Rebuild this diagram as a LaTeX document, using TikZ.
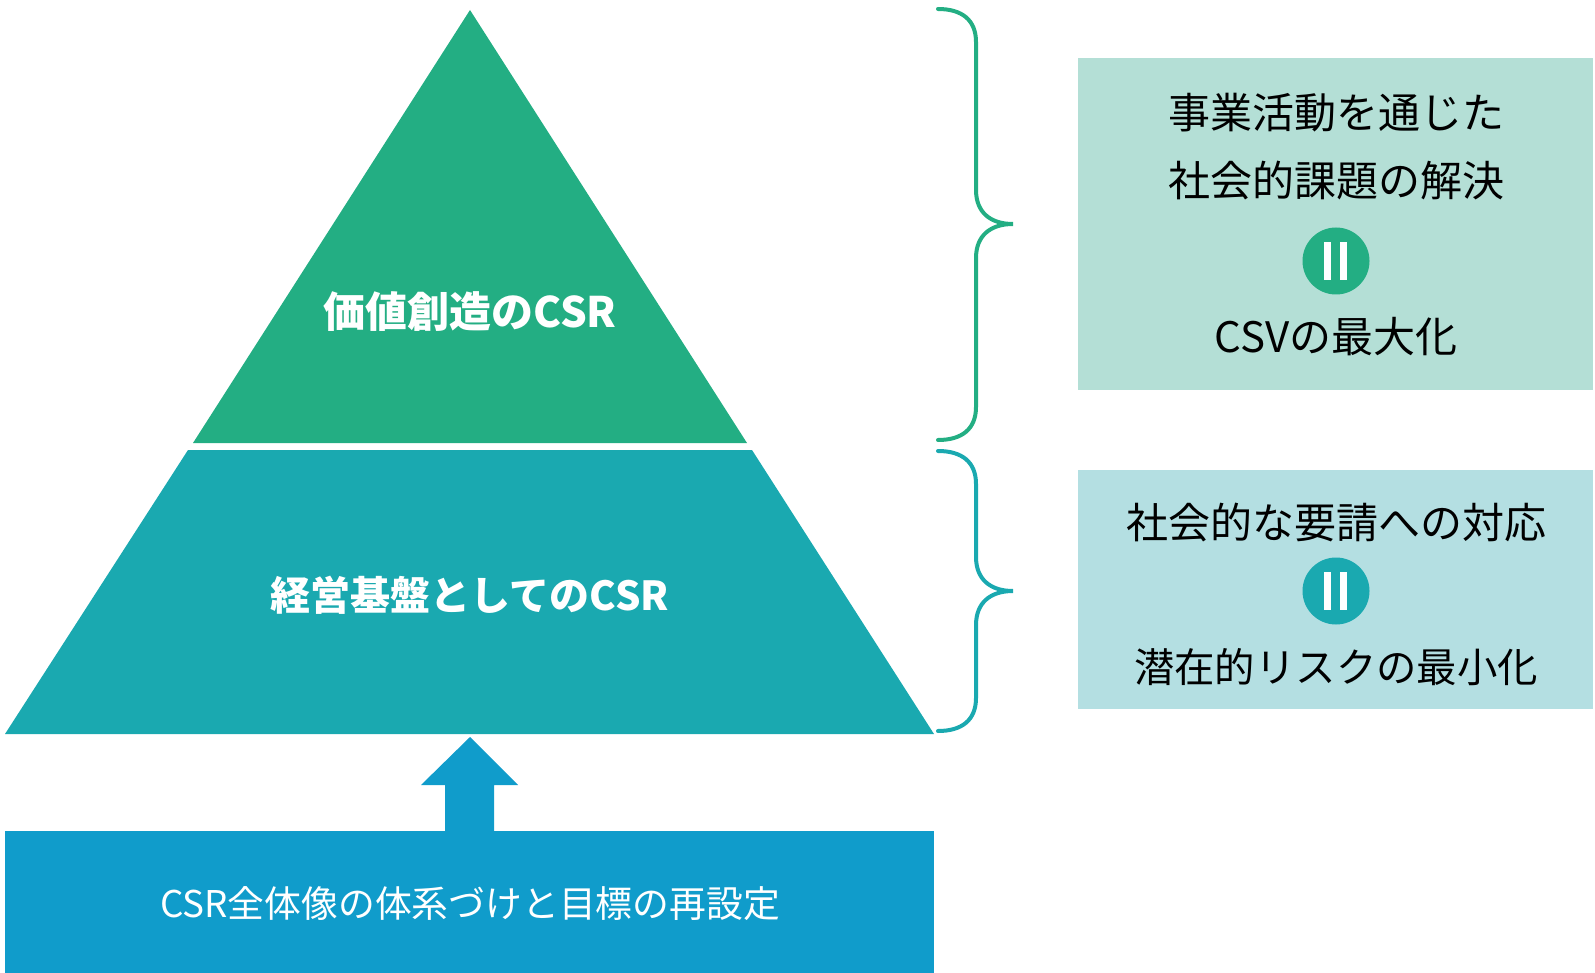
\documentclass[tikz,border=0pt]{standalone}
\usepackage{fontspec}
\newfontfamily\cjk{Noto Sans CJK JP}
\definecolor{pgreen}{RGB}{35,174,131}
\definecolor{pteal}{RGB}{26,169,176}
\definecolor{pblue}{RGB}{16,156,203}
\definecolor{boxg}{RGB}{180,223,214}
\definecolor{boxt}{RGB}{180,223,226}
\tikzset{
  lbl/.style={font=\cjk\bfseries\fontsize{20}{24}\selectfont, text=white, inner sep=0pt},
  rtxt/.style={font=\cjk\fontsize{21}{25}\selectfont, text=black, inner sep=0pt},
  btxt/.style={font=\cjk\fontsize{18.4}{22}\selectfont, text=white, inner sep=0pt},
  brace/.style={line width=2pt, line cap=round},
  eqcirc/.style={circle, minimum size=33.5pt, inner sep=0pt},
}
\begin{document}
\begin{tikzpicture}[x=0.5pt,y=-0.5pt]
\useasboundingbox (0,0) rectangle (1595,973);
% pyramid
\fill[pgreen] (470,10) -- (193,443) -- (747,443) -- cycle;
\fill[pteal] (188,450) -- (752,450) -- (934,734) -- (5,734) -- cycle;
\node[lbl, font=\cjk\bfseries\fontsize{21}{25}\selectfont] (top) at (470,312) {価値創造のCSR};
\node[lbl] (mid) at (470,595) {経営基盤としてのCSR};
% bottom box
\fill[pblue] (5,831) rectangle (934,973);
\node[btxt] (base) at (470,904) {CSR全体像の体系づけと目標の再設定};
% arrow
\fill[pblue] (470,737) -- (518,785) -- (494,785) -- (494,831) -- (445,831) -- (445,785) -- (421,785) -- cycle;
% braces
\draw[brace, pgreen] (938,9) .. controls (962,9) and (976,20) .. (976,42) -- (976,190)
  .. controls (976,212) and (990,224) .. (1013,224)
  .. controls (990,224) and (976,236) .. (976,258) -- (976,407)
  .. controls (976,429) and (962,440) .. (938,440);
\draw[brace, pteal] (938,451) .. controls (962,451) and (976,462) .. (976,484) -- (976,557)
  .. controls (976,579) and (990,591) .. (1013,591)
  .. controls (990,591) and (976,603) .. (976,625) -- (976,698)
  .. controls (976,720) and (962,731) .. (938,731);
% right box 1
\fill[boxg] (1078,58) rectangle (1593,390);
\node[rtxt] (r1a) at (1336,113) {事業活動を通じた};
\node[rtxt] (r1b) at (1336,181) {社会的課題の解決};
\node[eqcirc, fill=pgreen] (c1) at (1336,261) {};
\fill[white] (1324,242) rectangle (1331,280);
\fill[white] (1340,242) rectangle (1347,280);
\node[rtxt] (r1c) at (1336,337) {CSVの最大化};
% right box 2
\fill[boxt] (1078,470) rectangle (1593,709);
\node[rtxt] (r2a) at (1336,523) {社会的な要請への対応};
\node[eqcirc, fill=pteal] (c2) at (1336,591) {};
\fill[white] (1324,572) rectangle (1331,610);
\fill[white] (1340,572) rectangle (1347,610);
\node[rtxt, font=\cjk\fontsize{20.2}{24}\selectfont] (r2b) at (1336,667) {潜在的リスクの最小化};
\end{tikzpicture}
\end{document}
